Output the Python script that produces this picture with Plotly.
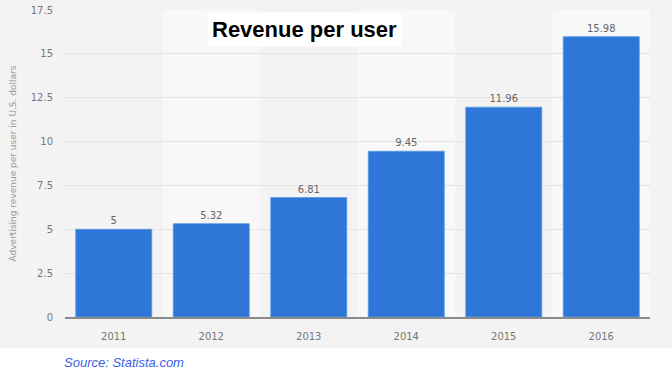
import plotly.graph_objects as go

years = ["2011", "2012", "2013", "2014", "2015", "2016"]
revenue = [5, 5.32, 6.81, 9.45, 11.96, 15.98]
labels = ["5", "5.32", "6.81", "9.45", "11.96", "15.98"]
y_ticks = [0, 2.5, 5, 7.5, 10, 12.5, 15, 17.5]
y_tick_text = ["0", "2.5", "5", "7.5", "10", "12.5", "15", "17.5"]

L, R, T, B = 65, 22, 10, 56
W, H = 672, 373
pw, ph = W - L - R, H - T - B

fig = go.Figure()
fig.add_trace(go.Bar(
    x=years, y=revenue, text=labels, textposition="outside",
    textfont=dict(family="DejaVu Sans", size=10, color="#666666"),
    marker=dict(color="#2e77d8", line=dict(color="#5a9ae8", width=0.8)),
    cliponaxis=False, hoverinfo="skip",
))

shapes = []
# gray background covering the upper part of the image
shapes.append(dict(type="rect", xref="paper", yref="paper",
                   x0=-L / pw, x1=(W - L) / pw,
                   y0=-(348 - (T + ph)) / ph, y1=(T + ph) / ph,
                   fillcolor="#f3f3f3", line=dict(width=0), layer="below"))
for i, _ in enumerate(years):
    shapes.append(dict(type="rect", xref="x", yref="paper",
                       x0=i - 0.5, x1=i + 0.5, y0=0, y1=1,
                       fillcolor="#f3f3f3" if i % 2 == 0 else "#f8f8f8",
                       line=dict(width=0), layer="below"))

fig.update_layout(
    width=W, height=H,
    margin=dict(l=L, r=R, t=T, b=B, autoexpand=False),
    paper_bgcolor="white", plot_bgcolor="rgba(0,0,0,0)",
    shapes=shapes, showlegend=False, bargap=0.22,
    xaxis=dict(type="category", showgrid=False, showline=True, linecolor="#8a8a8a",
               linewidth=1.5, ticks="", automargin=False, ticklabelstandoff=9,
               tickfont=dict(family="DejaVu Sans", size=10, color="#777777"),
               range=[-0.5, 5.5]),
    yaxis=dict(range=[0, 17.5], tickvals=y_ticks, ticktext=y_tick_text,
               showgrid=True, gridcolor="#e4e4e4", gridwidth=1, zeroline=False,
               automargin=False, ticks="", ticklabelstandoff=11,
               tickfont=dict(family="DejaVu Sans", size=10, color="#777777"),
               title=dict(text="Advertising revenue per user in U.S. dollars",
                          font=dict(family="DejaVu Sans", size=9, color="#999999"),
                          standoff=12)),
    annotations=[
        dict(text="<b>Revenue per user</b>", xref="paper", yref="paper",
             x=(304 - L) / pw, y=(T + ph - 29) / ph, xanchor="center", yanchor="middle",
             showarrow=False,
             font=dict(family="Liberation Sans, Arial", size=22, color="black"),
             bgcolor="white", borderpad=4),
        dict(text="<i>Source: Statista.com</i>", xref="paper", yref="paper",
             x=(62 - L) / pw, y=-(362 - (T + ph)) / ph, xanchor="left", yanchor="middle",
             showarrow=False,
             font=dict(family="Liberation Sans, Arial", size=13, color="#3a5fe6")),
    ],
)

fig.write_html("out.html", config={"displayModeBar": False},
               post_script="document.body.style.margin='0';document.body.style.overflow='hidden';")
